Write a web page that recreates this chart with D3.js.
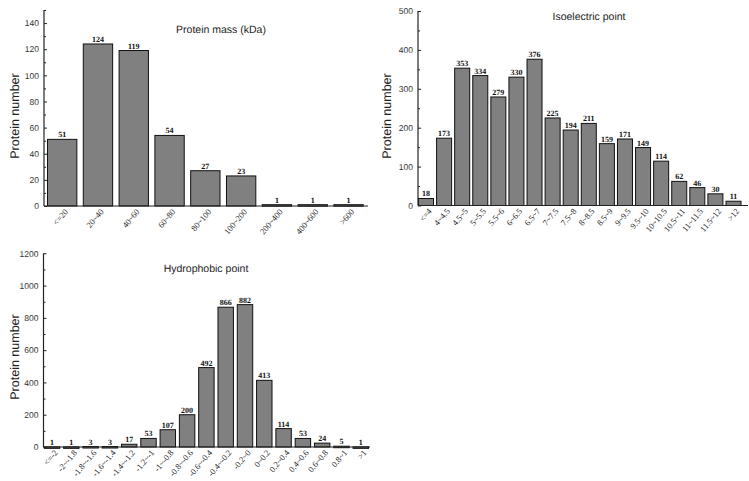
<!DOCTYPE html>
<html><head><meta charset="utf-8">
<script src="https://cdnjs.cloudflare.com/ajax/libs/d3/7.8.5/d3.min.js"></script>
<style>
body{margin:0;background:#fff;}
svg{display:block;}
text{text-rendering:geometricPrecision;}
</style></head>
<body><svg id="c" width="749" height="481"></svg>
<script>
// ---- Data ----
const massCategories = ["<=20","20~40","40~60","60~80","80~100","100~200","200~400","400~600",">600"];
const massValues = [51,124,119,54,27,23,1,1,1];
const massTicks = [0,20,40,60,80,100,120,140];

const pICategories = ["<=4","4~4.5","4.5~5","5~5.5","5.5~6","6~6.5","6.5~7","7~7.5","7.5~8","8~8.5","8.5~9","9~9.5","9.5~10","10~10.5","10.5~11","11~11.5","11.5~12",">12"];
const pIValues = [18,173,353,334,279,330,376,225,194,211,159,171,149,114,62,46,30,11];
const pITicks = [0,100,200,300,400,500];

const hydroCategories = ["<=-2","-2~-1.8","-1.8~-1.6","-1.6~-1.4","-1.4~-1.2","-1.2~-1","-1~-0.8","-0.8~-0.6","-0.6~-0.4","-0.4~-0.2","-0.2~0","0~0.2","0.2~0.4","0.4~0.6","0.6~0.8","0.8~1",">1"];
const hydroValues = [1,1,3,3,17,53,107,200,492,866,882,413,114,53,24,5,1];
const hydroTicks = [0,200,400,600,800,1000,1200];

const titles = ["Protein mass (kDa)","Isoelectric point","Hydrophobic point"];
const yLabel = "Protein number";

// ---- Layout ----
const svg = d3.select("#c");
const panels = [
  {cats:massCategories, vals:massValues, ticks:massTicks, minorStep:10, ymax:150,
   axisX:44, y0:206, y1:10, band:[47.5,363.2], pad:0.18, xEnd:368,
   title:titles[0], tx:221, ty:33, lx:15, ly:116},
  {cats:pICategories, vals:pIValues, ticks:pITicks, minorStep:50, ymax:500,
   axisX:418, y0:205.5, y1:11, band:[418.5,741], pad:0.17, xEnd:748,
   title:titles[1], tx:589, ty:20, lx:387, ly:116},
  {cats:hydroCategories, vals:hydroValues, ticks:hydroTicks, minorStep:100, ymax:1200,
   axisX:43.5, y0:447, y1:253.3, band:[44.3,368.5], pad:0.2, xEnd:370,
   title:titles[2], tx:206, ty:272, lx:15, ly:357}
];

panels.forEach(p => {
  const g = svg.append("g");
  const x = d3.scaleBand().domain(p.cats).range(p.band).paddingInner(p.pad).paddingOuter(0);
  const y = d3.scaleLinear().domain([0, p.ymax]).range([p.y0, p.y1]);

  // bars
  g.selectAll("rect.bar").data(p.vals).join("rect")
    .attr("class","bar")
    .attr("x",(d,i)=>x(p.cats[i]))
    .attr("width",x.bandwidth())
    .attr("y",d=>y(d))
    .attr("height",d=>Math.max(1.5, y(0)-y(d)))
    .attr("fill","#808080")
    .attr("stroke","#111")
    .attr("stroke-width",1);

  // value labels
  g.selectAll("text.val").data(p.vals).join("text")
    .attr("class","val")
    .attr("x",(d,i)=>x(p.cats[i])+x.bandwidth()/2)
    .attr("y",d=>y(d)-2)
    .attr("text-anchor","middle")
    .attr("font-family","'Liberation Serif','Times New Roman',serif")
    .attr("font-weight","bold")
    .attr("font-size","8px")
    .attr("fill","#111")
    .text(d=>d);

  // y axis major
  const ya = g.append("g").attr("transform",`translate(${p.axisX},0)`)
    .call(d3.axisLeft(y).tickValues(p.ticks).tickSize(-3).tickPadding(5).tickFormat(d3.format("d")));
  ya.select(".domain").remove();
  ya.selectAll("line").attr("stroke","#222");
  ya.selectAll("text").attr("font-family","'Liberation Sans',Arial,sans-serif").attr("font-size","8.5px").attr("fill","#333");
  // minor ticks
  const minor = d3.range(0, p.ymax + 0.001, p.minorStep).filter(v => !p.ticks.includes(v));
  const ym = g.append("g").attr("transform",`translate(${p.axisX},0)`)
    .call(d3.axisLeft(y).tickValues(minor).tickSize(-2).tickFormat(""));
  ym.select(".domain").remove();
  ym.selectAll("line").attr("stroke","#222");
  // y axis line
  g.append("line").attr("x1",p.axisX).attr("x2",p.axisX).attr("y1",y(0)).attr("y2",y(p.ymax))
    .attr("stroke","#222").attr("stroke-width",1.2);

  // x axis
  const xa = g.append("g").attr("transform",`translate(0,${y(0)})`)
    .call(d3.axisBottom(x).tickSize(0).tickPadding(0));
  xa.select(".domain").remove();
  xa.selectAll("text")
    .attr("font-family","'Liberation Serif','Times New Roman',serif")
    .attr("font-size","8.5px")
    .attr("fill","#222")
    .attr("text-anchor","end")
    .attr("dy","0.35em")
    .attr("transform","translate(4,4) rotate(-50)");
  g.append("line").attr("x1",p.axisX).attr("x2",p.xEnd).attr("y1",y(0)).attr("y2",y(0))
    .attr("stroke","#222").attr("stroke-width",1.2);

  // title
  g.append("text").attr("x",p.tx).attr("y",p.ty).attr("text-anchor","middle")
    .attr("font-family","'Liberation Sans',Arial,sans-serif").attr("font-size","10.5px").attr("fill","#222")
    .text(p.title);
  // y label
  g.append("text").attr("transform",`translate(${p.lx+4},${p.ly}) rotate(-90)`)
    .attr("text-anchor","middle")
    .attr("font-family","'Liberation Sans',Arial,sans-serif").attr("font-size","12.5px").attr("fill","#222")
    .text(yLabel);
});
</script></body></html>
